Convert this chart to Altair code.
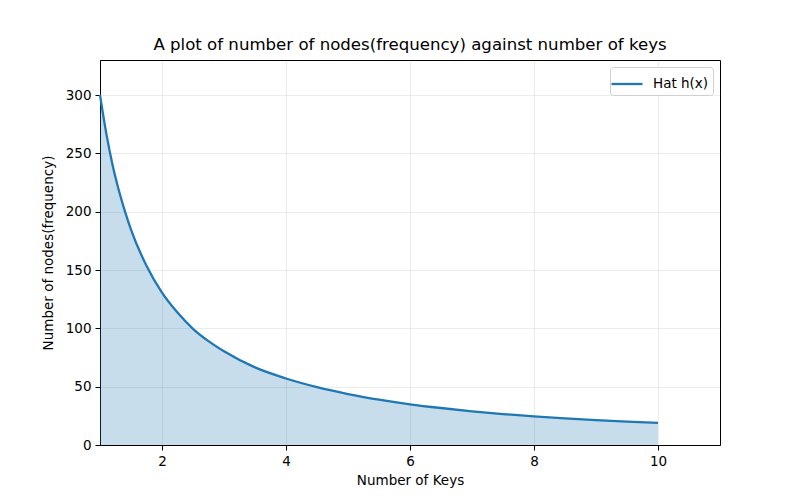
import altair as alt
import pandas as pd

# Values
keys = [1.0, 1.1, 1.2, 1.3, 1.4, 1.5, 1.75, 2.0, 2.25, 2.5, 2.75, 3.0, 3.5, 4.0, 4.5, 5.0, 5.5, 6.0, 6.5, 7.0, 7.5, 8.0, 8.5, 9.0, 9.5, 10.0]
nodes = [300, 267.5, 240.6, 219, 200.7, 184.6, 153.6, 130.6, 113.5, 99.6, 89, 80.3, 66.5, 57, 49.6, 43.7, 38.9, 34.9, 31.7, 28.9, 26.5, 24.6, 22.8, 21.3, 20, 18.9]
series = ["Hat h(x)"] * len(keys)

x_ticks = [2, 4, 6, 8, 10]
y_ticks = [0, 50, 100, 150, 200, 250, 300]

df = pd.DataFrame({"keys": keys, "nodes": nodes, "series": series})

BLUE = "#1f77b4"
FONT = "DejaVu Sans"

x = alt.X("keys:Q", title="Number of Keys",
          scale=alt.Scale(domain=[1, 11], nice=False, zero=False),
          axis=alt.Axis(values=x_ticks, format="d"))
y = alt.Y("nodes:Q", title="Number of nodes(frequency)",
          scale=alt.Scale(domain=[0, 330], nice=False),
          axis=alt.Axis(values=y_ticks, format="d"))

area = alt.Chart(df).mark_area(color=BLUE, opacity=0.25, interpolate="monotone").encode(x=x, y=y)

line = alt.Chart(df).mark_line(strokeWidth=2.3, interpolate="monotone").encode(
    x=x, y=y,
    color=alt.Color("series:N", title=None,
                    scale=alt.Scale(domain=["Hat h(x)"], range=[BLUE]),
                    legend=alt.Legend(orient="top-right", offset=7, symbolType="M-1.35,0H1.35",
                                      symbolSize=529, symbolStrokeWidth=2.3,
                                      labelFontSize=13.5, labelFont=FONT, labelColor="#000",
                                      labelOffset=13, padding=4, strokeColor="#d0d0d0",
                                      fillColor="white", cornerRadius=3))
)

chart = (area + line).properties(
    width=620, height=385,
    autosize="none",
    padding={"left": 92, "top": 52, "right": 72, "bottom": 47},
    title=alt.TitleParams("A plot of number of nodes(frequency) against number of keys",
                          font=FONT, fontSize=16.6, fontWeight="normal", color="#000",
                          anchor="middle", offset=6),
).configure_view(
    stroke="#000", strokeWidth=1
).configure_axis(
    labelFont=FONT, labelFontSize=13.5, labelColor="#000",
    titleFont=FONT, titleFontSize=13.5, titleFontWeight="normal", titleColor="#000",
    domainColor="#000", tickColor="#000", tickSize=5, labelPadding=4,
    grid=True, gridColor="#b0b0b0", gridOpacity=0.3, gridWidth=0.8,
).configure_axisX(titlePadding=6).configure_axisY(titlePadding=10)

chart.save("out.html", embed_options={"renderer": "svg", "actions": False})
